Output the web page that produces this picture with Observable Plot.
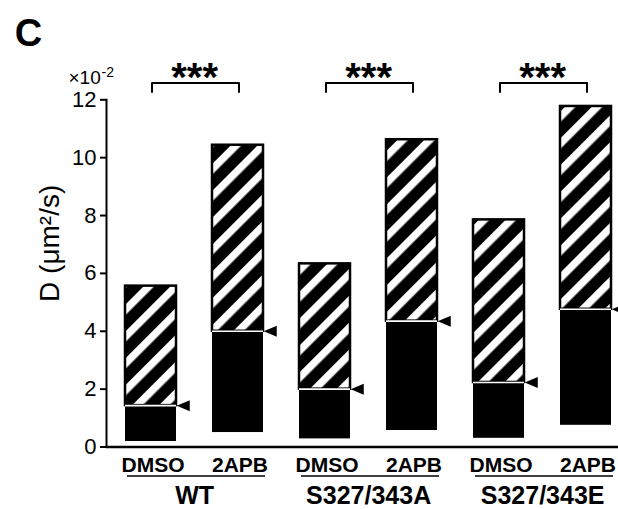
<!DOCTYPE html>
<html><head><meta charset="utf-8">
<script src="https://cdn.jsdelivr.net/npm/d3@7"></script>
<script src="https://cdn.jsdelivr.net/npm/@observablehq/plot@0.6"></script>
<style>body{margin:0;background:#fff} svg{display:block}</style>
</head><body><div id="chart"></div><script>
// ---- data ----
const groups = ["WT", "S327/343A", "S327/343E"];
const treatments = ["DMSO", "2APB"];
const lows    = [0.19, 0.50, 0.28, 0.57, 0.30, 0.75];
const medians = [1.43, 4.00, 2.00, 4.35, 2.23, 4.76];
const highs   = [5.56, 10.43, 6.33, 10.62, 7.85, 11.77];
const yTicks  = [0, 2, 4, 6, 8, 10, 12];
const significance = ["***", "***", "***"];

// ---- table ----
const rows = [];
groups.forEach((g, gi) => treatments.forEach((t, ti) => {
  const i = gi * 2 + ti;
  rows.push({key: g + "|" + t, group: g, treatment: t, low: lows[i], median: medians[i], high: highs[i]});
}));
const keys = rows.map(d => d.key);
const groupRows = groups.map((g, gi) => ({group: g, first: g + "|DMSO", last: g + "|2APB", sig: significance[gi]}));
const bracketPts = [];
groupRows.forEach(r => {
  bracketPts.push({g: r.group, x: r.first, y: 12.27});
  bracketPts.push({g: r.group, x: r.first, y: 12.58});
  bracketPts.push({g: r.group, x: r.last, y: 12.58});
  bracketPts.push({g: r.group, x: r.last, y: 12.27});
});

// ---- layout ----
const W = 618, H = 509, mL = 106, mR = 0, mT = 99.3, mB = 62.5;
const pIn = 0.41, pOut = 0.1375;
const step = (W - mL - mR) / (keys.length - pIn + 2 * pOut);
const bw = step * (1 - pIn);
const FONT = "'Liberation Sans', Arial, Helvetica, sans-serif";

const leftTriangle = {
  draw(ctx) { ctx.moveTo(-6.5, 0); ctx.lineTo(6.5, -5.5); ctx.lineTo(6.5, 5.5); ctx.closePath(); }
};

const plot = Plot.plot({
  width: W, height: H,
  marginLeft: mL, marginRight: mR, marginTop: mT, marginBottom: mB,
  style: {fontFamily: FONT, fontSize: "20px", background: "white", color: "black"},
  x: {type: "band", domain: keys, paddingInner: pIn, paddingOuter: pOut, align: 0.75, axis: null},
  y: {domain: [0, 12], axis: null},
  marks: [
    // black lower part
    Plot.barY(rows, {x: "key", y1: "low", y2: "median", fill: "black"}),
    // hatched upper part
    Plot.barY(rows, {x: "key", y1: "median", y2: "high", fill: "url(#hatch)", stroke: "black", strokeWidth: 2.5}),
    // white median line
    Plot.tickY(rows, {x: "key", y: "median", stroke: "white", strokeWidth: 1.6}),
    // arrowheads
    Plot.dot(rows, {x: "key", y: "median", symbol: leftTriangle, r: 5, fill: "black", stroke: null, dx: bw / 2 + 6.5}),
    // axes
    Plot.axisY({ticks: yTicks, tickSize: 6, tickPadding: 4, strokeWidth: 2, fontSize: 22, label: null}),
    Plot.frame({anchor: "left", strokeWidth: 2}),
    Plot.ruleY([0], {strokeWidth: 2.5}),
    // x labels
    Plot.text(rows, {x: "key", y: -0.87, text: "treatment", fontWeight: "bold", fontSize: 21, lineAnchor: "bottom", dx: 2}),
    Plot.ruleY(groupRows, {x1: "first", x2: "last", y: -1.0, strokeWidth: 1.6, dx: 2}),
    Plot.text(groupRows, {x: "first", y: -1.96, text: "group", fontWeight: "bold", fontSize: 25, lineAnchor: "bottom", dx: step / 2}),
    // significance brackets
    Plot.line(bracketPts, {x: "x", y: "y", z: "g", stroke: "black", strokeWidth: 2, strokeLinejoin: "round", dx: 1}),
    Plot.text(groupRows, {x: "first", y: 12.3, text: "sig", fontSize: 40, fontWeight: "bold", lineAnchor: "bottom", dx: step / 2}),
    // labels
    Plot.text(["D (μm²/s)"], {frameAnchor: "left", y: 7.04, text: d => d, rotate: -90, dx: -56, fontSize: 28, textAnchor: "middle", lineAnchor: "middle"}),
    Plot.text(["×10"], {frameAnchor: "top-left", text: d => d, textAnchor: "start", lineAnchor: "bottom", dx: -38, dy: -16, fontSize: 19}),
    Plot.text(["-2"], {frameAnchor: "top-left", text: d => d, textAnchor: "start", lineAnchor: "bottom", dx: -5, dy: -23, fontSize: 14}),
    Plot.text(["C"], {frameAnchor: "top-left", text: d => d, textAnchor: "middle", lineAnchor: "bottom", dx: -78, dy: -54, fontSize: 38, fontWeight: "bold"})
  ]
});

const svg = d3.select(plot);
svg.insert("defs", ":first-child").html(
  `<pattern id="hatch" patternUnits="userSpaceOnUse" width="19" height="19" patternTransform="rotate(45)">
     <rect width="19" height="19" fill="black"/>
     <rect x="0" y="0" width="7.5" height="19" fill="white"/>
   </pattern>`);
document.getElementById("chart").appendChild(plot);
</script></body></html>
